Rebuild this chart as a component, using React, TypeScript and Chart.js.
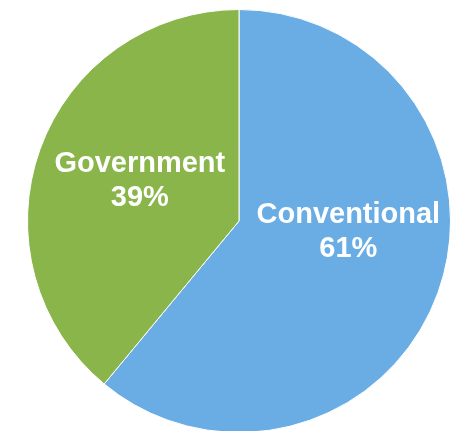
import React, { useEffect, useRef } from "react";
import { Chart, registerables } from "chart.js";

Chart.register(...registerables);

const categories = ["Conventional", "Government"];
const values = [61, 39];
const percentLabels = ["61%", "39%"];
const colors = ["#6AADE5", "#8AB54B"];

// label anchor as fraction of radius (dx, dy) from centre
const labelAnchors = [
  [0.517, 0.05],
  [-0.469, -0.19],
];

const labelPlugin = {
  id: "sliceLabels",
  afterDatasetsDraw(chart: any) {
    const meta = chart.getDatasetMeta(0);
    const ctx = chart.ctx;
    ctx.save();
    ctx.fillStyle = "#ffffff";
    ctx.font = "bold 29px 'Liberation Sans', Arial, sans-serif";
    ctx.textAlign = "center";
    ctx.textBaseline = "middle";
    meta.data.forEach((arc: any, i: number) => {
      const r = arc.outerRadius;
      const x = arc.x + labelAnchors[i][0] * r;
      const y = arc.y + labelAnchors[i][1] * r;
      ctx.fillText(categories[i], x, y - 17);
      ctx.fillText(percentLabels[i], x, y + 17);
    });
    ctx.restore();
  },
};

export default function App() {
  const ref = useRef<HTMLCanvasElement>(null);
  useEffect(() => {
    if (!ref.current) return;
    const chart = new Chart(ref.current, {
      type: "pie",
      data: {
        labels: categories,
        datasets: [
          {
            data: values,
            backgroundColor: colors,
            borderColor: "#ffffff",
            borderWidth: 1,
          },
        ],
      },
      options: {
        responsive: false,
        animation: false,
        layout: { padding: { left: 27, right: 0, top: 9, bottom: 9 } },
        plugins: {
          legend: { display: false },
          tooltip: { enabled: false },
        },
      },
      plugins: [labelPlugin],
    });
    return () => chart.destroy();
  }, []);
  return (
    <div
      style={{
        position: "fixed",
        left: 0,
        top: 0,
        width: 451,
        height: 431,
        overflow: "hidden",
        background: "#ffffff",
      }}
    >
      <canvas ref={ref} width={451} height={442} style={{ display: "block" }} />
    </div>
  );
}
